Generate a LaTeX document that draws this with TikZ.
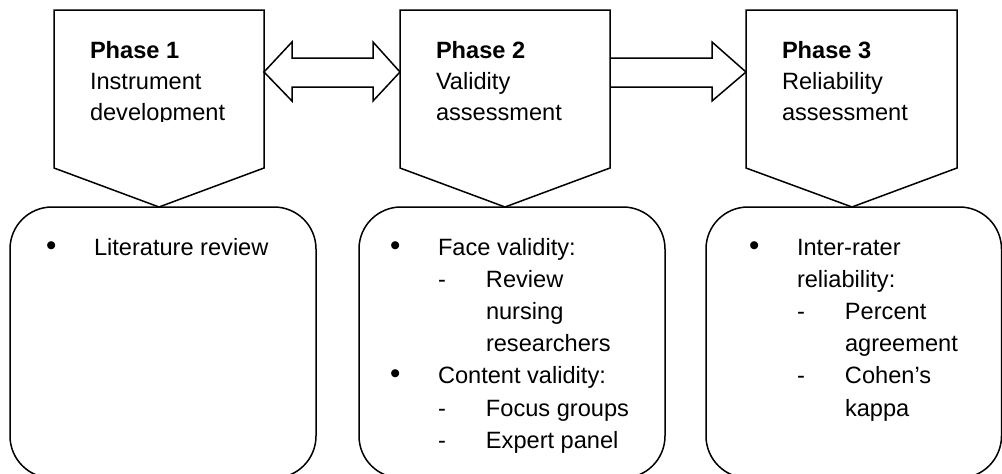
\documentclass[tikz,border=0pt]{standalone}
\usepackage{fontspec}
\setmainfont{Liberation Sans}
\usetikzlibrary{calc}
\newcommand\tabw{48pt}
\newcommand\bul{\leavevmode\llap{\makebox[\tabw][l]{\scalebox{1.25}{•}}}}
\newcommand\dsh{\makebox[\tabw][l]{-}}
\newcommand\ind{\hspace*{\tabw}}
\tikzset{
  outline/.style={draw=black, line width=1.5pt, line join=miter},
  roundbox/.style={draw=black, line width=1.5pt, rounded corners=42pt},
  txt/.style={anchor=base west, inner sep=0pt, outer sep=0pt},
}
\begin{document}
\begin{tikzpicture}[x=1pt,y=-1pt]
\useasboundingbox (0,0) rectangle (1002,474);
\clip (0,0) rectangle (1002,474);
% pentagon anchors
\coordinate (p1nw) at (54,10);  \coordinate (p1tip) at (159,207);
\coordinate (p2nw) at (400,10); \coordinate (p2tip) at (505,207);
\coordinate (p3nw) at (746,10); \coordinate (p3tip) at (852,207);
\coordinate (p1e) at (264,72);  \coordinate (p2w) at (400,72);
\coordinate (p2e) at (610,72);  \coordinate (p3w) at (746,72);
% pentagons
\draw[outline] (p1nw) -- ++(210,0) -- ++(0,158) -- (p1tip) -- ($(p1nw)+(0,158)$) -- cycle;
\draw[outline] (p2nw) -- ++(210,0) -- ++(0,158) -- (p2tip) -- ($(p2nw)+(0,158)$) -- cycle;
\draw[outline] (p3nw) -- ++(211,0) -- ++(0,158) -- (p3tip) -- ($(p3nw)+(0,158)$) -- cycle;
% double block arrow between phase 1 and 2
\draw[outline] (p1e) -- ($(p1e)+(28,-30)$) -- ($(p1e)+(28,-14)$) -- ($(p2w)+(-27,-14)$)
  -- ($(p2w)+(-27,-30)$) -- (p2w) -- ($(p2w)+(-27,29)$) -- ($(p2w)+(-27,15)$)
  -- ($(p1e)+(28,15)$) -- ($(p1e)+(28,29)$) -- cycle;
% block arrow between phase 2 and 3
\draw[outline] ($(p2e)+(0,-14)$) -- ($(p3w)+(-34,-14)$) -- ($(p3w)+(-34,-30)$) -- (p3w)
  -- ($(p3w)+(-34,29)$) -- ($(p3w)+(-34,15)$) -- ($(p2e)+(0,15)$);
% bottom rounded boxes
\draw[roundbox] (10,207) rectangle (316,478);
\draw[roundbox] (359,207) rectangle (665,478);
\draw[roundbox] (706,207) rectangle (1001.5,478);
% phase texts
\begin{scope}
\clip (54,10) rectangle (264,121);
\node[txt] (ph1) at (90,58) {\begin{minipage}[t]{170pt}\fontsize{23.6}{31}\selectfont
\textbf{Phase 1}\\Instrument\\development\end{minipage}};
\end{scope}
\node[txt] (ph2) at (436,58) {\begin{minipage}[t]{170pt}\fontsize{23.6}{31}\selectfont
\textbf{Phase 2}\\Validity\\assessment\end{minipage}};
\node[txt] (ph3) at (782,58) {\begin{minipage}[t]{170pt}\fontsize{23.6}{31}\selectfont
\textbf{Phase 3}\\Reliability\\assessment\end{minipage}};
% box texts
\node[txt] (b1) at (94,255) {\begin{minipage}[t]{215pt}\fontsize{23.6}{32.2}\selectfont
\bul Literature review\end{minipage}};
\node[txt] (b2) at (438,255) {\begin{minipage}[t]{215pt}\fontsize{23.6}{32.2}\selectfont
\bul Face validity:\\
\dsh Review\\
\ind nursing\\
\ind researchers\\
\bul Content validity:\\
\dsh Focus groups\\
\dsh Expert panel\end{minipage}};
\node[txt] (b3) at (797,255) {\begin{minipage}[t]{200pt}\fontsize{23.6}{32.2}\selectfont
\bul Inter-rater\\
reliability:\\
\dsh Percent\\
\ind agreement\\
\dsh Cohen’s\\
\ind kappa\end{minipage}};
\end{tikzpicture}
\end{document}
